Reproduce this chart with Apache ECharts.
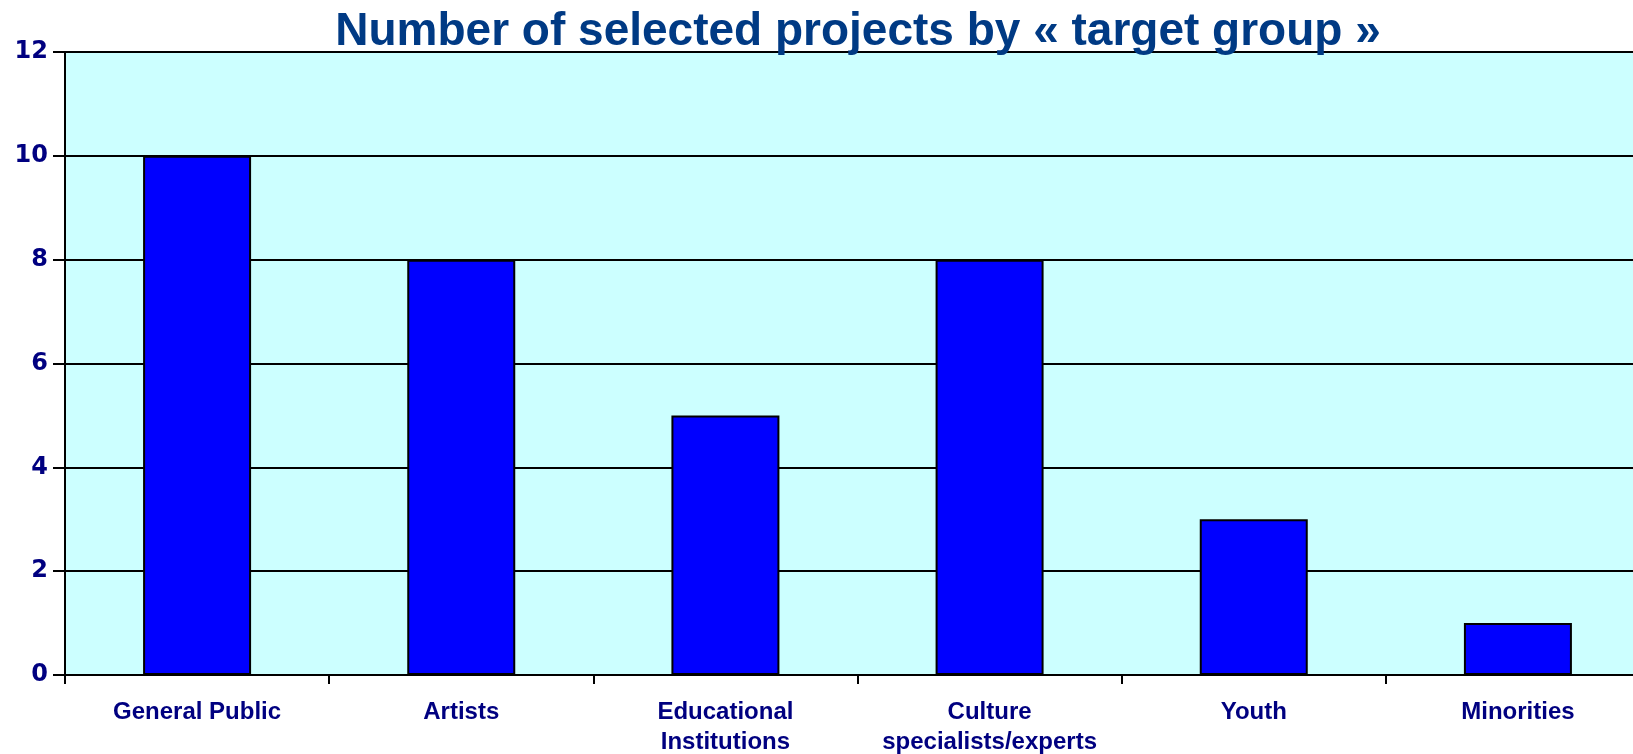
<!DOCTYPE html>
<html>
<head>
<meta charset="utf-8">
<style>
  html, body { margin: 0; padding: 0; background: #fff; }
  #chart { width: 1633px; height: 754px; }
</style>
<script src="https://cdn.jsdelivr.net/npm/echarts@6/dist/echarts.min.js"></script>
</head>
<body>
<div id="chart"></div>
<script>
const categories = ['General Public', 'Artists', 'Educational\nInstitutions', 'Culture\nspecialists/experts', 'Youth', 'Minorities']
const projects = [10, 8, 5, 8, 3, 1]
const yTicks = [0, 2, 4, 6, 8, 10, 12]

const labelFont = '"Liberation Sans", Arial, sans-serif'

let myChart = echarts.init(document.getElementById('chart'))
myChart.setOption({
  animation: false,
  title: {
    text: 'Number of selected projects by « target group »',
    left: 853,
    textAlign: 'center',
    top: 4,
    textStyle: {
      color: '#003a84',
      fontSize: 46,
      fontWeight: 'bold',
      fontFamily: labelFont,
    },
  },
  grid: {
    left: 65,
    width: 1585,
    top: 52,
    height: 623,
    outerBoundsMode: 'none',
    containLabel: false,
    show: true,
    backgroundColor: '#ccffff',
    borderWidth: 0,
  },
  xAxis: {
    type: 'category',
    data: categories,
    axisLine: { lineStyle: { color: '#000', width: 2 } },
    axisTick: { show: true, length: 9, lineStyle: { color: '#000', width: 2 } },
    axisLabel: {
      color: '#000080',
      fontSize: 24,
      fontWeight: 'bold',
      fontFamily: labelFont,
      margin: 22,
      lineHeight: 30,
      interval: 0,
    },
  },
  yAxis: {
    type: 'value',
    min: yTicks[0],
    max: yTicks[yTicks.length - 1],
    interval: 2,
    axisLine: { show: true, lineStyle: { color: '#000', width: 2 } },
    axisTick: { show: true, length: 12, lineStyle: { color: '#000', width: 2 } },
    axisLabel: {
      color: '#000080',
      fontSize: 24,
      fontWeight: 'bold',
      fontFamily: '"DejaVu Sans", Verdana, sans-serif',
      margin: 17,
    },
    splitLine: { show: true, lineStyle: { color: '#000', width: 2 } },
  },
  series: [
    {
      type: 'bar',
      data: projects,
      barWidth: 108,
      itemStyle: {
        color: '#0000ff',
        borderColor: '#000',
        borderWidth: 2,
      },
    },
  ],
})
</script>
</body>
</html>
